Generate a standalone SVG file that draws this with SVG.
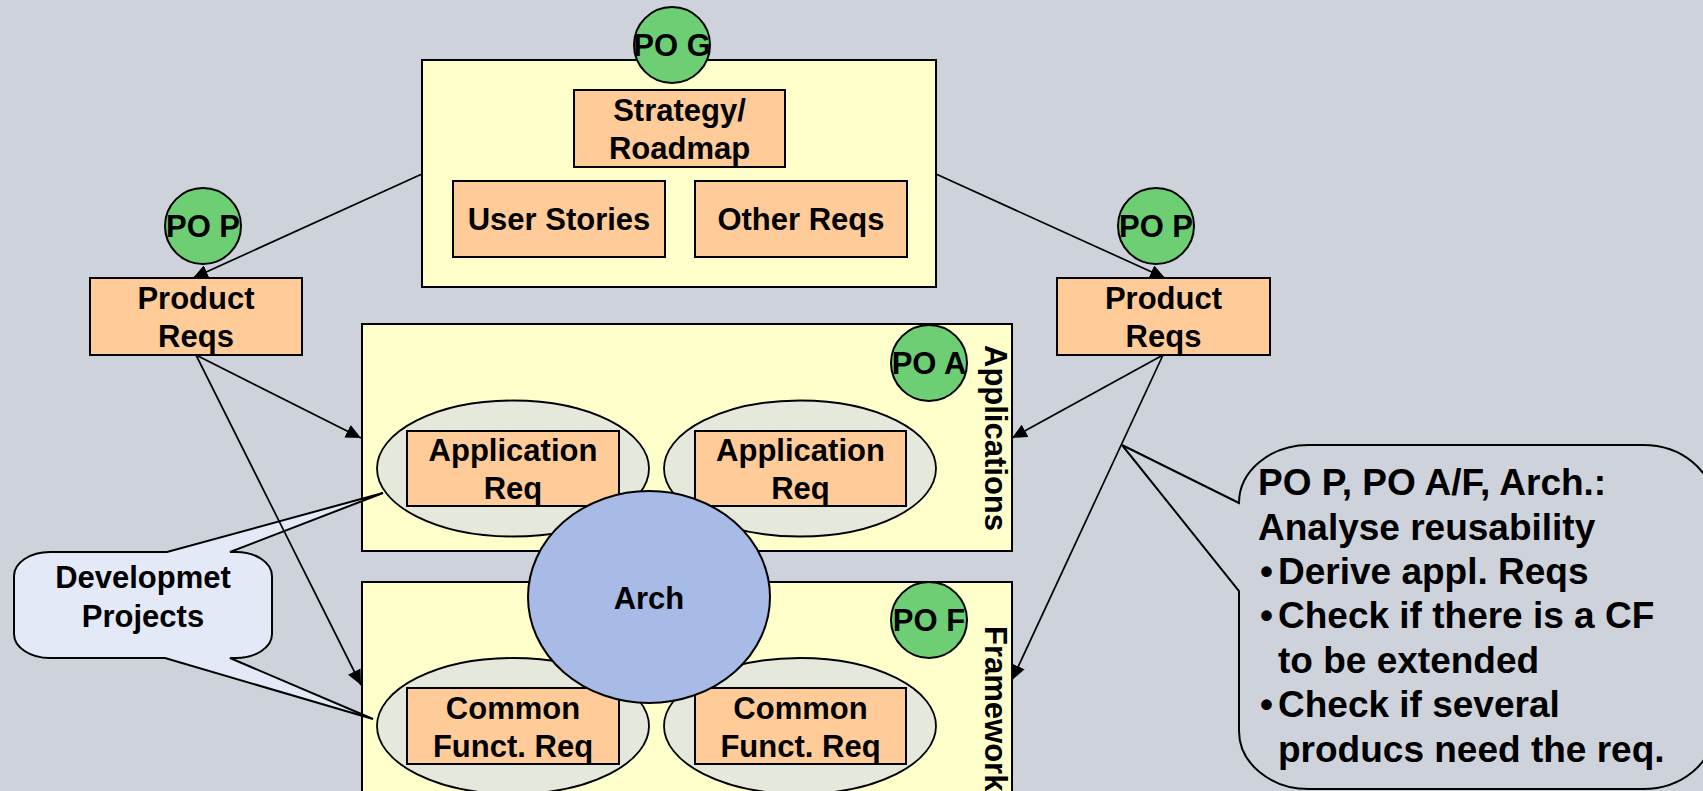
<svg xmlns="http://www.w3.org/2000/svg" width="1703" height="791" viewBox="0 0 1703 791">
  <style>
    .t { font-family: "Liberation Sans", Arial, sans-serif; font-weight: bold; font-size: 31px; fill: #000; text-anchor: middle; }
    .vt { font-family: "Liberation Sans", Arial, sans-serif; font-weight: bold; font-size: 31px; fill: #000; }
    .note { font-family: "Liberation Sans", Arial, sans-serif; font-weight: bold; font-size: 37px; fill: #000; }
    .area { fill: #FFFFCC; stroke: #000; stroke-width: 2; }
    .req { fill: #FFCC99; stroke: #000; stroke-width: 2; }
    .po { fill: #6DCE74; stroke: #000; stroke-width: 2; }
    .grp { fill: #E5E9DC; stroke: #000; stroke-width: 1.8; }
    .arch { fill: #A8BAE6; stroke: #000; stroke-width: 2; }
    .conn { fill: none; stroke: #000; stroke-width: 1.7; marker-end: url(#arrow); }
    .callout { stroke: #000; stroke-width: 2; stroke-linejoin: miter; }
  </style>
  <defs>
    <marker id="arrow" markerUnits="userSpaceOnUse" viewBox="0 0 15 14" markerWidth="15" markerHeight="14" refX="15" refY="7" orient="auto">
      <path d="M0,0 L15,7 L0,14 z" fill="#000"/>
    </marker>
  </defs>

  <rect x="0" y="0" width="1703" height="791" fill="#CED3DB"/>

  <!-- Global requirements area -->
  <g id="global">
    <rect class="area" x="422" y="60" width="514" height="227"/>
  </g>
  <g id="strategy">
    <rect class="req" x="574" y="90" width="211" height="77"/>
    <text class="t" x="679.5" y="120.5">Strategy/</text>
    <text class="t" x="679.5" y="158.5">Roadmap</text>
  </g>
  <g id="user-stories">
    <rect class="req" x="453" y="181" width="212" height="76"/>
    <text class="t" x="559" y="230">User Stories</text>
  </g>
  <g id="other-reqs">
    <rect class="req" x="695" y="181" width="212" height="76"/>
    <text class="t" x="801" y="230">Other Reqs</text>
  </g>
  <g id="po-g">
    <circle class="po" cx="672" cy="45" r="38"/>
    <text class="t" x="672" y="56">PO G</text>
  </g>

  <!-- Product requirements -->
  <g id="po-p-left">
    <circle class="po" cx="203" cy="226" r="38"/>
    <text class="t" x="203" y="237">PO P</text>
  </g>
  <g id="product-left">
    <rect class="req" x="90" y="278" width="212" height="77"/>
    <text class="t" x="196" y="308.5">Product</text>
    <text class="t" x="196" y="346.5">Reqs</text>
  </g>
  <g id="po-p-right">
    <circle class="po" cx="1156" cy="226" r="38"/>
    <text class="t" x="1156" y="237">PO P</text>
  </g>
  <g id="product-right">
    <rect class="req" x="1057" y="278" width="213" height="77"/>
    <text class="t" x="1163.5" y="308.5">Product</text>
    <text class="t" x="1163.5" y="346.5">Reqs</text>
  </g>

  <!-- Applications layer -->
  <g id="applications">
    <rect class="area" x="362" y="324" width="650" height="227"/>
    <text class="vt" transform="translate(985,345) rotate(90)">Applications</text>
  </g>
  <g id="po-a">
    <circle class="po" cx="929" cy="363" r="38"/>
    <text class="t" x="929" y="374">PO A</text>
  </g>
  <g id="app-left">
    <ellipse class="grp" cx="513" cy="468.5" rx="136" ry="68"/>
    <rect class="req" x="407" y="431" width="212" height="75"/>
    <text class="t" x="513" y="461">Application</text>
    <text class="t" x="513" y="499">Req</text>
  </g>
  <g id="app-right">
    <ellipse class="grp" cx="800" cy="468.5" rx="136" ry="68"/>
    <rect class="req" x="695" y="431" width="211" height="75"/>
    <text class="t" x="800.5" y="461">Application</text>
    <text class="t" x="800.5" y="499">Req</text>
  </g>

  <!-- Framework layer -->
  <g id="framework">
    <rect class="area" x="362" y="582" width="650" height="240"/>
    <text class="vt" transform="translate(985,626) rotate(90)">Framework</text>
  </g>
  <g id="po-f">
    <circle class="po" cx="929" cy="620" r="38"/>
    <text class="t" x="929" y="631">PO F</text>
  </g>
  <g id="cf-left">
    <ellipse class="grp" cx="513" cy="726" rx="136" ry="68"/>
    <rect class="req" x="407" y="688" width="212" height="76"/>
    <text class="t" x="513" y="719">Common</text>
    <text class="t" x="513" y="757">Funct. Req</text>
  </g>
  <g id="cf-right">
    <ellipse class="grp" cx="800" cy="726" rx="136" ry="68"/>
    <rect class="req" x="695" y="688" width="211" height="76"/>
    <text class="t" x="800.5" y="719">Common</text>
    <text class="t" x="800.5" y="757">Funct. Req</text>
  </g>

  <!-- Architecture spans both layers -->
  <g id="arch">
    <ellipse class="arch" cx="649" cy="597" rx="121" ry="106"/>
    <text class="t" x="649" y="609">Arch</text>
  </g>

  <!-- Development projects callout -->
  <g id="dev-projects">
    <path class="callout" fill="#E3E9F6" d="M50,552 L167,552 L383,493 L230,552 L236,552 A36 24 0 0 1 272,576 L272,634 A36 24 0 0 1 236,658 L230,658 L373,719 L165,658 L50,658 A36 24 0 0 1 14,634 L14,576 A36 24 0 0 1 50,552 Z"/>
    <text class="t" x="143" y="588">Developmet</text>
    <text class="t" x="143" y="627">Projects</text>
  </g>

  <!-- Reusability analysis callout -->
  <g id="reuse-note">
    <path class="callout" fill="#CED3DB" d="M1239,503 L1122,445 L1239,591 L1239,731 A70 58 0 0 0 1309,789 L1643,789 A70 58 0 0 0 1713,731 L1713,503 A70 58 0 0 0 1643,445 L1309,445 A70 58 0 0 0 1239,503 Z"/>
    <text class="note" x="1258" y="495">PO P, PO A/F, Arch.:</text>
    <text class="note" x="1258" y="540">Analyse reusability</text>
    <text class="note" x="1260" y="584">•</text>
    <text class="note" x="1278" y="584">Derive appl. Reqs</text>
    <text class="note" x="1260" y="628">•</text>
    <text class="note" x="1278" y="628">Check if there is a CF</text>
    <text class="note" x="1278" y="673">to be extended</text>
    <text class="note" x="1260" y="717">•</text>
    <text class="note" x="1278" y="717">Check if several</text>
    <text class="note" x="1278" y="762">producs need the req.</text>
  </g>

  <!-- Connectors -->
  <g id="connectors">
    <path class="conn" d="M422,174 L193,278"/>
    <path class="conn" d="M936,174 L1165,278"/>
    <path class="conn" d="M196,355 L361,438"/>
    <path class="conn" d="M196,355 L361,685"/>
    <path class="conn" d="M1163,355 L1012,438"/>
    <path class="conn" d="M1163,355 L1012,680"/>
  </g>
</svg>
